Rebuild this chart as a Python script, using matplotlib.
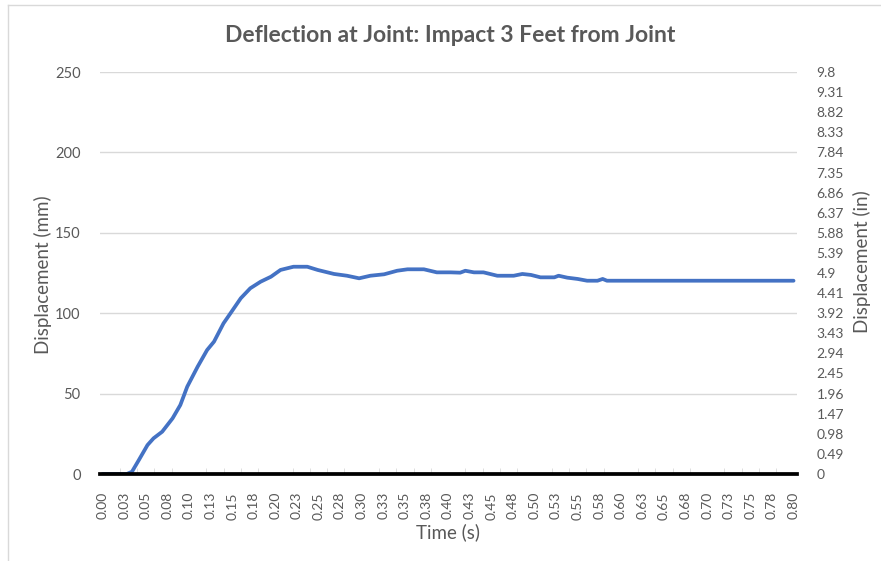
import matplotlib
matplotlib.use("Agg")
import matplotlib.pyplot as plt
from matplotlib.lines import Line2D

# Deflection readings taken off the reference chart
time_s = [0.0, 0.028, 0.034, 0.042, 0.052, 0.059, 0.069, 0.081, 0.090, 0.098,
          0.110, 0.121, 0.129, 0.140, 0.148, 0.160, 0.171, 0.183, 0.195, 0.206,
          0.221, 0.237, 0.249, 0.268, 0.283, 0.297, 0.310, 0.326, 0.341, 0.353,
          0.372, 0.387, 0.403, 0.414, 0.420, 0.430, 0.441, 0.457, 0.476, 0.486,
          0.496, 0.507, 0.523, 0.528, 0.538, 0.550, 0.561, 0.573, 0.579, 0.584,
          0.600, 0.800]
disp_mm = [0, 0, 1.4, 8.7, 18, 22.2, 26.3, 34.6, 42.9, 54.3,
           66.7, 77.1, 82.3, 93.7, 99.9, 109.3, 115.5, 119.6, 122.7, 126.9,
           128.9, 128.9, 126.9, 124.4, 123.3, 121.7, 123.3, 124.2, 126.4, 127.3,
           127.3, 125.4, 125.4, 125.2, 126.4, 125.4, 125.4, 123.3, 123.3, 124.4,
           123.8, 122.3, 122.3, 123.3, 122.1, 121.3, 120.2, 120.2, 121.3, 120.2,
           120.2, 120.2]

x_label_pos = [i * 0.025 for i in range(33)]
x_labels = ["0.00", "0.03", "0.05", "0.08", "0.10", "0.13", "0.15", "0.18", "0.20",
            "0.23", "0.25", "0.28", "0.30", "0.33", "0.35", "0.38", "0.40", "0.43",
            "0.45", "0.48", "0.50", "0.53", "0.55", "0.58", "0.60", "0.63", "0.65",
            "0.68", "0.70", "0.73", "0.75", "0.78", "0.80"]
x_minor_pos = [i * 0.02 for i in range(41)]

mm_ticks = [0, 50, 100, 150, 200, 250]
in_ticks = [i * 0.49 for i in range(21)]
in_labels = ["0", "0.49", "0.98", "1.47", "1.96", "2.45", "2.94", "3.43", "3.92",
             "4.41", "4.9", "5.39", "5.88", "6.37", "6.86", "7.35", "7.84", "8.33",
             "8.82", "9.31", "9.8"]

TEXT = "#595959"
GRID = "#D9D9D9"
BLUE = "#4472C4"

plt.rcParams["font.family"] = ["Lato", "DejaVu Sans"]

fig = plt.figure(figsize=(8.81, 5.61), dpi=100)
W, H = 881, 561

# chart-area frame (left and top edges visible)
fig.add_artist(Line2D([8 / W, 8 / W], [0, 1 - 5 / H], color=GRID, lw=1))
fig.add_artist(Line2D([8 / W, 1], [1 - 5 / H, 1 - 5 / H], color=GRID, lw=1))

ax = fig.add_axes([100 / W, 1 - 474 / H, 697 / W, 402 / H])
ax.plot(time_s, disp_mm, color=BLUE, lw=2.7, solid_capstyle="round",
        solid_joinstyle="round", zorder=2)

ax.set_xlim(-0.003, 0.804)
ax.set_ylim(0, 250)
ax.set_yticks(mm_ticks)
ax.yaxis.grid(True, color=GRID, lw=1)
ax.set_axisbelow(True)

ax.set_xticks(x_label_pos)
ax.set_xticklabels(x_labels, rotation=90)
ax.set_xticks(x_minor_pos, minor=True)
ax.tick_params(axis="x", which="major", length=0, pad=13, labelsize=10, labelcolor=TEXT)
ax.tick_params(axis="x", which="minor", length=4, direction="in", color=GRID)
ax.tick_params(axis="y", length=0, pad=14, labelsize=10.5, labelcolor=TEXT)

for side in ["top", "left", "right"]:
    ax.spines[side].set_visible(False)
ax.spines["bottom"].set_color("black")
ax.spines["bottom"].set_linewidth(2.7)
ax.spines["bottom"].set_zorder(3)

ax2 = ax.twinx()
ax2.set_ylim(0, 9.8)
ax2.set_yticks(in_ticks)
ax2.set_yticklabels(in_labels)
ax2.tick_params(axis="y", length=0, pad=14, labelsize=10, labelcolor=TEXT)
for side in ["top", "left", "right", "bottom"]:
    ax2.spines[side].set_visible(False)

fig.text(450 / W, 1 - 36 / H, "Deflection at Joint: Impact 3 Feet from Joint",
         ha="center", va="center", fontsize=16.5, fontweight="bold", color=TEXT)
fig.text(448 / W, 1 - 532 / H, "Time (s)", ha="center", va="center",
         fontsize=13.5, color=TEXT)
fig.text(43 / W, 1 - 275 / H, "Displacement (mm)", ha="center", va="center",
         rotation=90, fontsize=13.5, color=TEXT)
fig.text(862 / W, 1 - 262 / H, "Displacement (in)", ha="center", va="center",
         rotation=90, fontsize=13.5, color=TEXT)

fig.savefig("out.png", dpi=100)
